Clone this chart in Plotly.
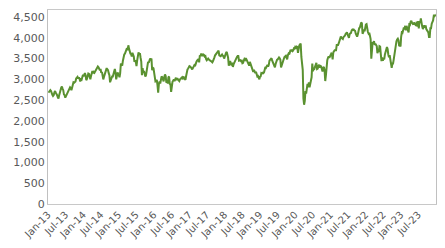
import numpy as np
import pandas as pd
import plotly.graph_objects as go

# Weekly index levels, one list per year
v2013 = [2712, 2700, 2720, 2740, 2720, 2640, 2630, 2600, 2620, 2690, 2720, 2680, 2620, 2620, 2570, 2540,
         2620, 2720, 2740, 2800, 2830, 2780, 2740, 2640, 2620, 2560, 2600, 2620, 2680, 2720, 2760, 2800,
         2810, 2790, 2740, 2800, 2880, 2930, 2920, 2950, 2950, 3020, 3050, 3060, 3020, 3050, 3010, 2950,
         3000, 2990, 3050, 3110]
v2014 = [3070, 3110, 3150, 3100, 2980, 3010, 3100, 3140, 3130, 3060, 3000, 3080, 3170, 3200, 3150, 3180,
         3160, 3190, 3220, 3240, 3290, 3310, 3290, 3230, 3220, 3250, 3160, 3180, 3080, 3000, 3060, 3130,
         3170, 3230, 3270, 3240, 3220, 3150, 3100, 2930, 2980, 3050, 3070, 3070, 3150, 3200, 3250, 3160,
         3000, 3080, 3150, 3146]
v2015 = [3100, 3050, 3150, 3380, 3350, 3330, 3450, 3550, 3600, 3620, 3680, 3700, 3750, 3700, 3820, 3740,
         3620, 3620, 3610, 3550, 3640, 3610, 3550, 3420, 3460, 3420, 3320, 3460, 3620, 3650, 3600, 3630,
         3520, 3430, 3100, 3270, 3160, 3200, 3130, 3070, 3100, 3250, 3350, 3420, 3400, 3440, 3500, 3480,
         3500, 3220, 3280, 3268]
v2016 = [3180, 3030, 2950, 2960, 2990, 2860, 2680, 2880, 2950, 2900, 3000, 3070, 3050, 3000, 2950, 3060,
         3120, 3080, 2920, 2950, 2900, 3050, 3070, 2890, 2880, 2700, 2860, 2940, 2970, 3000, 2960, 3000,
         3040, 2980, 3030, 3000, 2980, 2960, 3000, 3020, 3030, 3050, 3000, 3070, 3030, 3020, 2990, 3080,
         3200, 3240, 3260, 3290]
v2017 = [3320, 3310, 3300, 3270, 3240, 3270, 3310, 3340, 3320, 3400, 3420, 3450, 3470, 3490, 3410, 3580,
         3560, 3620, 3590, 3560, 3600, 3590, 3550, 3560, 3490, 3460, 3480, 3500, 3480, 3450, 3450, 3440,
         3420, 3410, 3440, 3520, 3530, 3580, 3600, 3610, 3630, 3650, 3690, 3580, 3570, 3560, 3580, 3600,
         3570, 3560, 3500]
v2018 = [3560, 3590, 3640, 3660, 3610, 3520, 3330, 3420, 3440, 3380, 3340, 3400, 3300, 3360, 3400, 3440,
         3490, 3500, 3540, 3560, 3560, 3450, 3460, 3460, 3440, 3450, 3390, 3400, 3450, 3490, 3470, 3510,
         3480, 3440, 3400, 3390, 3330, 3420, 3380, 3340, 3300, 3220, 3180, 3230, 3200, 3150, 3180, 3140,
         3070, 3080, 3000, 3001]
v2019 = [3060, 3070, 3150, 3140, 3160, 3150, 3170, 3240, 3300, 3280, 3330, 3350, 3310, 3350, 3450, 3480,
         3500, 3510, 3450, 3410, 3380, 3370, 3290, 3370, 3440, 3470, 3480, 3500, 3530, 3510, 3470, 3290,
         3330, 3380, 3420, 3490, 3540, 3550, 3570, 3520, 3480, 3580, 3620, 3600, 3700, 3710, 3690, 3700,
         3680, 3700, 3750, 3745]
v2020 = [3780, 3760, 3790, 3780, 3640, 3800, 3820, 3840, 3860, 3540, 3330, 3230, 2540, 2390, 2480, 2720,
         2660, 2830, 2890, 2810, 2930, 2810, 2900, 3000, 3050, 3380, 3200, 3250, 3250, 3300, 3370, 3400,
         3250, 3260, 3330, 3350, 3280, 3320, 3310, 3250, 3190, 3280, 3300, 3220, 2960, 3100, 3400, 3460,
         3520, 3550, 3520, 3550]
v2021 = [3600, 3620, 3600, 3480, 3650, 3680, 3700, 3700, 3700, 3830, 3840, 3830, 3870, 3920, 3980, 4030,
         4000, 3970, 3970, 4020, 4030, 4050, 4090, 4130, 4130, 4080, 4050, 4000, 4090, 4110, 4120, 4180,
         4200, 4190, 4200, 4180, 4170, 4100, 4050, 4030, 4080, 4180, 4230, 4250, 4360, 4370, 4350, 4100,
         4130, 4200, 4160, 4298]
v2022 = [4320, 4330, 4200, 4140, 4100, 4120, 4050, 3970, 3500, 3730, 3900, 3870, 3920, 3830, 3860, 3830,
         3800, 3630, 3700, 3660, 3800, 3790, 3600, 3440, 3530, 3450, 3500, 3480, 3600, 3710, 3720, 3780,
         3730, 3600, 3530, 3580, 3500, 3350, 3280, 3380, 3380, 3480, 3610, 3700, 3870, 3920, 3960, 3980,
         3940, 3800, 3820, 3794]
v2023 = [4020, 4130, 4120, 4180, 4250, 4200, 4290, 4180, 4290, 4230, 4130, 4130, 4320, 4310, 4390, 4410,
         4360, 4340, 4320, 4370, 4330, 4320, 4290, 4390, 4270, 4400, 4230, 4400, 4360, 4470, 4290, 4270,
         4210, 4240, 4300, 4240, 4300, 4210, 4170, 4140, 4130, 4020, 4020, 4230, 4230, 4340, 4380, 4420,
         4530, 4520, 4540, 4521]

years = [2013, 2014, 2015, 2016, 2017, 2018, 2019, 2020, 2021, 2022, 2023]
year_values = [v2013, v2014, v2015, v2016, v2017, v2018, v2019, v2020, v2021, v2022, v2023]

tick_dates = ["2013-01-01", "2013-07-01", "2014-01-01", "2014-07-01", "2015-01-01", "2015-07-01",
              "2016-01-01", "2016-07-01", "2017-01-01", "2017-07-01", "2018-01-01", "2018-07-01",
              "2019-01-01", "2019-07-01", "2020-01-01", "2020-07-01", "2021-01-01", "2021-07-01",
              "2022-01-01", "2022-07-01", "2023-01-01", "2023-07-01"]
tick_labels = ["Jan-13", "Jul-13", "Jan-14", "Jul-14", "Jan-15", "Jul-15", "Jan-16", "Jul-16",
               "Jan-17", "Jul-17", "Jan-18", "Jul-18", "Jan-19", "Jul-19", "Jan-20", "Jul-20",
               "Jan-21", "Jul-21", "Jan-22", "Jul-22", "Jan-23", "Jul-23"]

x_all, y_all = [], []
for yr, vals in zip(years, year_values):
    d = pd.date_range(f"{yr}-01-04", f"{yr}-12-29", periods=len(vals))
    x_all.extend(d)
    y_all.extend(vals)

fig = go.Figure()
fig.add_trace(go.Scatter(x=x_all, y=y_all, mode="lines",
                         line=dict(color="#5a9130", width=2), hoverinfo="skip"))

font = dict(family="DejaVu Sans", size=11, color="#595959")
fig.update_layout(
    width=445, height=248,
    margin=dict(l=48, r=8, t=10, b=41),
    paper_bgcolor="white", plot_bgcolor="white",
    showlegend=False,
    font=font,
)
fig.update_xaxes(
    range=["2013-01-01", "2023-12-31"],
    tickvals=tick_dates, ticktext=tick_labels, tickangle=-45,
    tickfont=dict(family="DejaVu Sans", size=10, color="#595959"),
    showgrid=False, zeroline=False,
    showline=True, linecolor="#c8c8c8", linewidth=1, mirror=True,
    ticks="", 
)
fig.update_yaxes(
    range=[0, 4670], dtick=500, tickformat=",",
    tickfont=font,
    showgrid=False, zeroline=False,
    showline=True, linecolor="#c0c0c0", linewidth=1, mirror=True,
    ticks="",
)

fig.write_html("out.html")
